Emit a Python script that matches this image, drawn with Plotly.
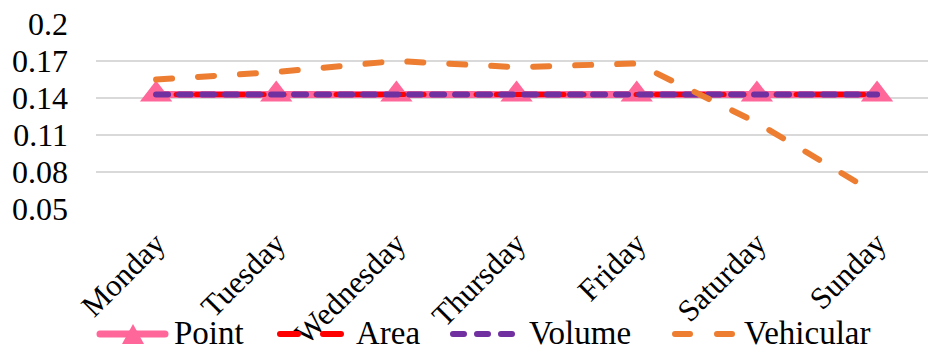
import plotly.graph_objects as go

days = ["Monday", "Tuesday", "Wednesday", "Thursday", "Friday", "Saturday", "Sunday"]
point = [0.1429, 0.1429, 0.1429, 0.1429, 0.1429, 0.1429, 0.1429]
area = [0.1429, 0.1429, 0.1429, 0.1429, 0.1429, 0.1429, 0.1429]
volume = [0.1429, 0.1429, 0.1429, 0.1429, 0.1429, 0.1429, 0.1429]
vehicular = [0.155, 0.161, 0.170, 0.165, 0.168, 0.120, 0.062]
series_names = ["Point", "Area", "Volume", "Vehicular"]
y_ticks = [0.05, 0.08, 0.11, 0.14, 0.17, 0.2]
y_tick_text = ["0.05", "0.08", "0.11", "0.14", "0.17", "0.2"]

FONT = "Liberation Serif, Times New Roman, serif"
FS = 33
PINK, RED, PURPLE, ORANGE = "#FF6699", "#FF0000", "#7030A0", "#ED7D31"

W, H = 928, 351
ML, MR, MT, MB = 96, 0, 24, 142
PW, PH = W - ML - MR, H - MT - MB


def px_x(x):
    return (x - ML) / PW


def px_y(y):
    return (H - MB - y) / PH


fig = go.Figure()
fig.add_trace(go.Scatter(
    x=days, y=point, name=series_names[0], mode="lines+markers", showlegend=False,
    line=dict(color=PINK, width=7),
    marker=dict(symbol="triangle-up", size=28, color=PINK),
))
fig.add_trace(go.Scatter(
    x=days, y=area, name=series_names[1], mode="lines", showlegend=False,
    line=dict(color=RED, width=5, dash="8px,12px"),
))
fig.add_trace(go.Scatter(
    x=days, y=volume, name=series_names[2], mode="lines", showlegend=False,
    line=dict(color=PURPLE, width=6, dash="12px,11px"),
))
fig.add_trace(go.Scatter(
    x=days, y=vehicular, name=series_names[3], mode="lines", showlegend=False,
    line=dict(color=ORANGE, width=6, dash="16px,26px"),
))

# custom legend (long sample lines like the original)
leg_y = 334
legend_items = [
    (series_names[0], PINK, 7, "solid", 97, 168, 172),
    (series_names[1], RED, 6, "18px,25px", 277, 344, 354),
    (series_names[2], PURPLE, 6, "11px,13px", 450, 515, 527),
    (series_names[3], ORANGE, 6, "15px,27px", 672, 736, 742),
]
shapes = []
annotations = []
for name, color, wdt, dash, x0, x1, tx in legend_items:
    shapes.append(dict(type="line", xref="paper", yref="paper",
                       x0=px_x(x0 + 3), x1=px_x(x1 - 3), y0=px_y(leg_y), y1=px_y(leg_y),
                       line=dict(color=color, width=wdt, dash=dash)))
    annotations.append(dict(text=name, xref="paper", yref="paper",
                            x=px_x(tx), y=px_y(leg_y - 1), xanchor="left", yanchor="middle",
                            showarrow=False, font=dict(family=FONT, size=FS, color="black")))
# triangle marker on the Point legend entry
tri = "M {:.5f} {:.5f} L {:.5f} {:.5f} L {:.5f} {:.5f} Z".format(
    px_x(122), px_y(344), px_x(144), px_y(344), px_x(133), px_y(324))
shapes.append(dict(type="path", xref="paper", yref="paper", path=tri,
                   fillcolor=PINK, line=dict(width=0)))

fig.update_layout(
    width=W, height=H,
    margin=dict(l=ML, r=MR, t=MT, b=MB, autoexpand=False),
    paper_bgcolor="white", plot_bgcolor="white",
    font=dict(family=FONT, size=FS, color="black"),
    showlegend=False,
    shapes=shapes, annotations=annotations,
)
fig.update_xaxes(
    type="category", range=[-0.5, 6.424], tickangle=-45, automargin=False,
    showgrid=False, zeroline=False, showline=False, ticks="", ticklabelstandoff=9,
    tickfont=dict(family=FONT, size=31, color="black"),
)
fig.update_yaxes(
    range=[0.05, 0.2], tickvals=y_ticks, ticktext=y_tick_text, automargin=False,
    showgrid=True, gridcolor="#D9D9D9", gridwidth=1.5,
    zeroline=False, showline=False, ticks="", ticklabelstandoff=27,
    tickfont=dict(family=FONT, size=32, color="black"),
)

post = """
var s = document.createElement('style');
s.textContent = '.scatterlayer .js-line, .shapelayer path { stroke-linecap: round !important; stroke-linejoin: round !important; }';
document.head.appendChild(s);
"""
fig.write_html("out.html", post_script=post)
